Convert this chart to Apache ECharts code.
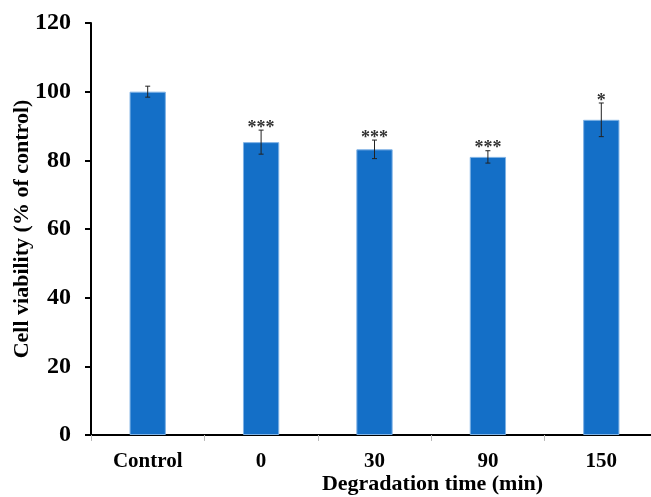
<!DOCTYPE html>
<html>
<head>
<meta charset="utf-8">
<script src="https://cdn.jsdelivr.net/npm/echarts@6/dist/echarts.min.js"></script>
<style>
  html, body { margin: 0; padding: 0; background: #fff; }
  #chart { width: 651px; height: 497px; }
</style>
</head>
<body>
<div id="chart"></div>
<script>
const categories = ['Control', '0', '30', '90', '150']
const viability = [100, 85.3, 83.2, 81.0, 91.8]
const errors = [1.6, 3.5, 2.7, 1.8, 4.9]
const significance = ['', '***', '***', '***', '*']

const serif = '"Liberation Serif", "DejaVu Serif", serif'

const chart = echarts.init(document.getElementById('chart'))

const option = {
    animation: false,
    grid: {
        left: 91,
        top: 23,
        width: 567,
        height: 412,
        outerBoundsMode: 'none',
        containLabel: false
    },
    xAxis: {
        type: 'category',
        data: categories,
        name: 'Degradation time (min)',
        nameLocation: 'middle',
        nameGap: 38,
        nameMoveOverlap: false,
        nameTextStyle: {
            fontFamily: serif,
            fontWeight: 'bold',
            fontSize: 22,
            color: '#000',
            padding: [0, 0, 0, 116]
        },
        axisLine: { lineStyle: { color: '#000', width: 2 } },
        axisTick: { show: true, length: 6, lineStyle: { color: '#bbb', width: 1 } },
        axisLabel: {
            fontFamily: serif,
            fontWeight: 'bold',
            fontSize: 21,
            color: '#000',
            margin: 16
        }
    },
    yAxis: {
        type: 'value',
        min: 0,
        max: 120,
        interval: 20,
        name: 'Cell viability (% of control)',
        nameLocation: 'middle',
        nameGap: 58,
        nameMoveOverlap: false,
        nameTextStyle: {
            fontFamily: serif,
            fontWeight: 'bold',
            fontSize: 22,
            color: '#000'
        },
        axisLine: { show: true, lineStyle: { color: '#000', width: 2 } },
        axisTick: { show: true, inside: false, length: 6, lineStyle: { color: '#000', width: 2 } },
        axisLabel: {
            fontFamily: serif,
            fontWeight: 'bold',
            fontSize: 24,
            color: '#000',
            margin: 20
        },
        splitLine: { show: false }
    },
    series: [
        {
            type: 'bar',
            data: viability,
            barWidth: '32%',
            itemStyle: {
                color: '#146fc7',
                borderColor: '#7fb2e5',
                borderWidth: 1
            }
        },
        {
            type: 'custom',
            data: viability.map((v, i) => [i, v, errors[i], significance[i]]),
            z: 10,
            renderItem: (params, api) => {
                const i = api.value(0)
                const v = api.value(1)
                const e = api.value(2)
                const top = api.coord([i, v + e])
                const bottom = api.coord([i, v - e])
                const cap = 2.5
                const style = { stroke: '#222', lineWidth: 1 }
                const children = [
                    { type: 'line', shape: { x1: top[0], y1: top[1], x2: bottom[0], y2: bottom[1] }, style },
                    { type: 'line', shape: { x1: top[0] - cap, y1: top[1], x2: top[0] + cap, y2: top[1] }, style },
                    { type: 'line', shape: { x1: bottom[0] - cap, y1: bottom[1], x2: bottom[0] + cap, y2: bottom[1] }, style }
                ]
                const sig = significance[i]
                if (sig) {
                    children.push({
                        type: 'text',
                        style: {
                            x: top[0],
                            y: top[1] - 2,
                            text: sig,
                            fill: '#333',
                            font: 'bold 18px "Liberation Serif", serif',
                            align: 'center',
                            verticalAlign: 'middle'
                        }
                    })
                }
                return { type: 'group', children }
            }
        }
    ]
}

chart.setOption(option)
</script>
</body>
</html>
